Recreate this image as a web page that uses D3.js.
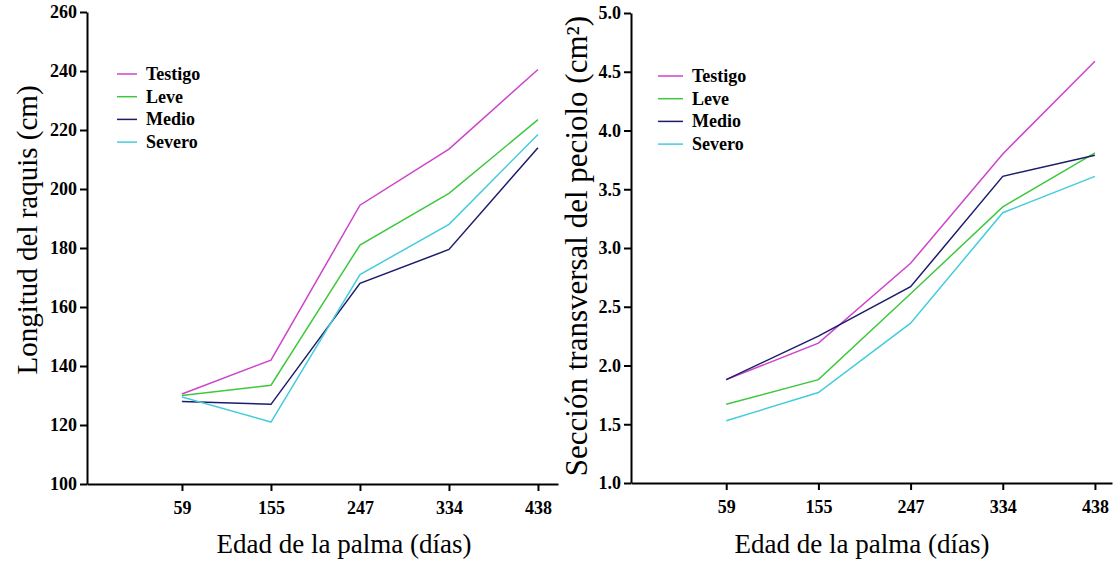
<!DOCTYPE html>
<html>
<head>
<meta charset="utf-8">
<script src="https://cdn.jsdelivr.net/npm/d3@7"></script>
<style>
  body { margin: 0; background: #fff; }
  svg text { font-family: "Liberation Serif", "Times New Roman", serif; }
</style>
</head>
<body>
<script>
// dias de edad de la palma (categorias del eje x)
var days = ["59", "155", "247", "334", "438"];
var series = ["Testigo", "Leve", "Medio", "Severo"];
var colors = ["#cc44cc", "#3fc83f", "#1c1c6a", "#44ccdd"];

// Longitud del raquis (cm)
var raquisTestigo = [130.5, 142, 194.5, 213.5, 240.5];
var raquisLeve    = [130, 133.5, 181, 198.5, 223.5];
var raquisMedio   = [128, 127, 168, 179.5, 214];
var raquisSevero  = [129.5, 121, 171, 188, 218.5];
var raquisTicks = [100, 120, 140, 160, 180, 200, 220, 240, 260];

// Seccion transversal del peciolo (cm2)
var pecTestigo = [1.88, 2.19, 2.87, 3.8, 4.59];
var pecLeve    = [1.67, 1.88, 2.61, 3.35, 3.81];
var pecMedio   = [1.88, 2.25, 2.67, 3.61, 3.79];
var pecSevero  = [1.53, 1.77, 2.36, 3.3, 3.61];
var pecTicks = [1.0, 1.5, 2.0, 2.5, 3.0, 3.5, 4.0, 4.5, 5.0];

var W = 1118, H = 564;

var svg = d3.select("body")
    .append("svg")
    .attr("width", W)
    .attr("height", H);

function panel(opt) {
    // x en indices de categoria, con margen antes del primer dia
    var x = d3.scaleLinear().domain(opt.xdom).range([opt.left, opt.right]);
    var y = d3.scaleLinear().domain(opt.ydom).range([opt.bottom, opt.top]);

    var g = svg.append("g");

    g.append("g")
        .attr("transform", "translate(0," + opt.bottom + ")")
        .call(d3.axisBottom(x)
            .tickValues(d3.range(days.length))
            .tickFormat(function (i) { return days[i]; })
            .tickSize(7)
            .tickSizeOuter(0)
            .tickPadding(10));

    g.append("g")
        .attr("transform", "translate(" + opt.left + ",0)")
        .call(d3.axisLeft(y)
            .tickValues(opt.ticks)
            .tickFormat(opt.fmt)
            .tickSize(7)
            .tickSizeOuter(0)
            .tickPadding(3));

    g.selectAll(".domain, .tick line")
        .attr("stroke", "#000")
        .attr("stroke-width", 2);
    g.selectAll(".tick text")
        .attr("fill", "#000")
        .style("font-size", "18px")
        .style("font-weight", "bold");

    var line = d3.line()
        .x(function (d, i) { return x(i); })
        .y(function (d) { return y(d); });

    opt.data.forEach(function (vals, k) {
        g.append("path")
            .datum(vals)
            .attr("fill", "none")
            .attr("stroke", colors[k])
            .attr("stroke-width", 1.5)
            .attr("d", line);
    });

    // leyenda
    var lg = g.append("g")
        .attr("transform", "translate(" + opt.legX + "," + opt.legY + ")");
    series.forEach(function (s, k) {
        var row = lg.append("g").attr("transform", "translate(0," + (k * 22.7) + ")");
        row.append("line")
            .attr("x1", 0).attr("x2", opt.legLen)
            .attr("stroke", colors[k])
            .attr("stroke-width", 1.5);
        row.append("text")
            .attr("x", opt.legLen + 9)
            .attr("dy", "0.33em")
            .style("font-size", "18px")
            .style("font-weight", "bold")
            .text(s);
    });

    g.append("text")
        .attr("x", opt.xTitleX)
        .attr("y", 553)
        .attr("text-anchor", "middle")
        .style("font-size", "27px")
        .text("Edad de la palma (días)");

    g.append("text")
        .attr("transform", "translate(" + opt.yTitleX + "," + opt.yTitleY + ") rotate(-90)")
        .attr("text-anchor", "middle")
        .style("font-size", opt.yTitleSize)
        .text(opt.yTitle);
}

panel({
    left: 87, right: 558, top: 12, bottom: 484,
    xdom: [-1.067, 4.225], ydom: [100, 260],
    ticks: raquisTicks, fmt: d3.format("d"),
    data: [raquisTestigo, raquisLeve, raquisMedio, raquisSevero],
    legX: 117, legY: 74, legLen: 20,
    xTitleX: 344, yTitleX: 37, yTitleY: 230, yTitleSize: "29px",
    yTitle: "Longitud del raquis (cm)"
});

panel({
    left: 631, right: 1112, top: 13, bottom: 483,
    xdom: [-1.033, 4.185], ydom: [1, 5],
    ticks: pecTicks, fmt: d3.format(".1f"),
    data: [pecTestigo, pecLeve, pecMedio, pecSevero],
    legX: 658, legY: 76, legLen: 25,
    xTitleX: 862, yTitleX: 587, yTitleY: 246, yTitleSize: "31px",
    yTitle: "Sección transversal del peciolo (cm²)"
});
</script>
</body>
</html>
